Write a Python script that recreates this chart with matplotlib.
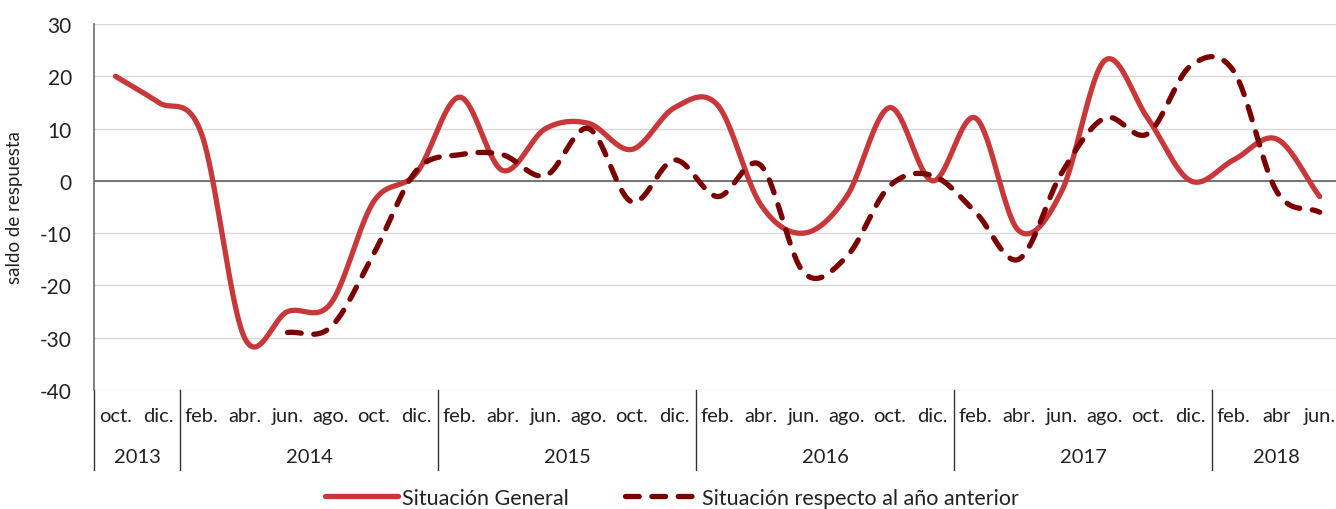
import numpy as np
import matplotlib.pyplot as plt
from matplotlib.lines import Line2D

plt.rcParams['font.family'] = ['Lato', 'DejaVu Sans']
plt.rcParams['axes.unicode_minus'] = False

# categories
months = ['oct.', 'dic.',
          'feb.', 'abr.', 'jun.', 'ago.', 'oct.', 'dic.',
          'feb.', 'abr.', 'jun.', 'ago.', 'oct.', 'dic.',
          'feb.', 'abr.', 'jun.', 'ago.', 'oct.', 'dic.',
          'feb.', 'abr.', 'jun.', 'ago.', 'oct.', 'dic.',
          'feb.', 'abr', 'jun.']
years = ['2013', '2014', '2015', '2016', '2017', '2018']
year_sizes = [2, 6, 6, 6, 6, 3]

# series (saldo de respuesta)
general = [20, 15, 9, -30, -25, -23.5, -4, 1.5,
           16, 2, 10, 11, 6, 14,
           14.5, -4.5, -10, -3, 14, 0,
           12, -9.5, -2, 23, 12, 0,
           4, 8, -3]
anterior = [np.nan, np.nan, np.nan, np.nan, -29, -28, -14, 2,
            5, 5, 1, 10, -4, 4,
            -3, 3, -17.5, -14.5, -1, 1,
            -6, -15, 1.5, 12, 9, 22,
            21, -2, -6]


def smooth(y, n=40):
    # Catmull-Rom spline through the points (like Excel's smoothed line)
    y = np.asarray(y, dtype=float)
    idx = np.where(~np.isnan(y))[0]
    x = idx.astype(float)
    v = y[idx]
    xs, ys = [], []
    for i in range(len(v) - 1):
        p0 = v[i - 1] if i > 0 else v[i]
        p1, p2 = v[i], v[i + 1]
        p3 = v[i + 2] if i + 2 < len(v) else v[i + 1]
        m1 = (p2 - p0) / 2 if i > 0 else (p2 - p1)
        m2 = (p3 - p1) / 2 if i + 2 < len(v) else (p2 - p1)
        t = np.linspace(0, 1, n, endpoint=False)
        h00 = 2 * t**3 - 3 * t**2 + 1
        h10 = t**3 - 2 * t**2 + t
        h01 = -2 * t**3 + 3 * t**2
        h11 = t**3 - t**2
        xs.append(x[i] + t * (x[i + 1] - x[i]))
        ys.append(h00 * p1 + h10 * m1 + h01 * p2 + h11 * m2)
    xs.append([x[-1]])
    ys.append([v[-1]])
    return np.concatenate(xs), np.concatenate(ys)


fig = plt.figure(figsize=(13.36, 5.10), dpi=100)
ax = fig.add_axes([94 / 1336, 1 - 391 / 510, 1 - 94 / 1336, 366 / 510])

c_gen = '#C8373A'
c_ant = '#7A0000'
txt = '#222222'

ax.set_ylim(-40, 30)
ax.set_xlim(-0.5, 28.38)
ax.set_yticks(range(-40, 31, 10))
ax.grid(axis='y', color='#D9D9D9', lw=1)
ax.set_axisbelow(True)
ax.axhline(0, color='#6B6B6B', lw=1.3, zorder=1)

x1, y1 = smooth(general)
ax.plot(x1, y1, color=c_gen, lw=3.8, solid_capstyle='round', zorder=3)
x2, y2 = smooth(anterior)
ax.plot(x2, y2, color=c_ant, lw=3.8, ls=(0, (2.6, 2.4)),
        dash_capstyle='round', zorder=4)

for s in ['top', 'right', 'bottom']:
    ax.spines[s].set_visible(False)
ax.spines['left'].set_color('#6B6B6B')
ax.spines['left'].set_linewidth(1.2)

ax.tick_params(axis='y', length=0, pad=16, labelsize=15, labelcolor=txt)
ax.set_xticks([])

# two-level category axis
tr = ax.get_xaxis_transform()
for i, m in enumerate(months):
    ax.text(i, -0.071, m, transform=tr, ha='center', va='center',
            fontsize=14.5, color=txt)
start = 0
bounds = [0]
for yr, n in zip(years, year_sizes):
    ax.text(start + n / 2 - 0.5, -0.183, yr, transform=tr, ha='center',
            va='center', fontsize=14.5, color=txt)
    start += n
    bounds.append(start)
for b in bounds[:-1]:
    ax.plot([b - 0.5, b - 0.5], [0, -0.2186], transform=tr, color='#333333',
            lw=1, clip_on=False)

ax.set_ylabel('saldo de respuesta', fontsize=13.5, color=txt)
ax.yaxis.set_label_coords(-0.0575, 0.5)

handles = [Line2D([], [], color=c_gen, lw=3.8, solid_capstyle='round'),
           Line2D([], [], color=c_ant, lw=3.8, ls=(0, (2.6, 2.4)),
                  dash_capstyle='round')]
fig.legend(handles, ['Situación General', 'Situación respecto al año anterior'],
           loc='center', bbox_to_anchor=(0.503, 1 - 499 / 510), ncol=2,
           frameon=False, handlelength=3.4, columnspacing=2.6,
           handletextpad=0.2, fontsize=15.5, labelcolor=txt)

fig.savefig('out.png', dpi=100)
